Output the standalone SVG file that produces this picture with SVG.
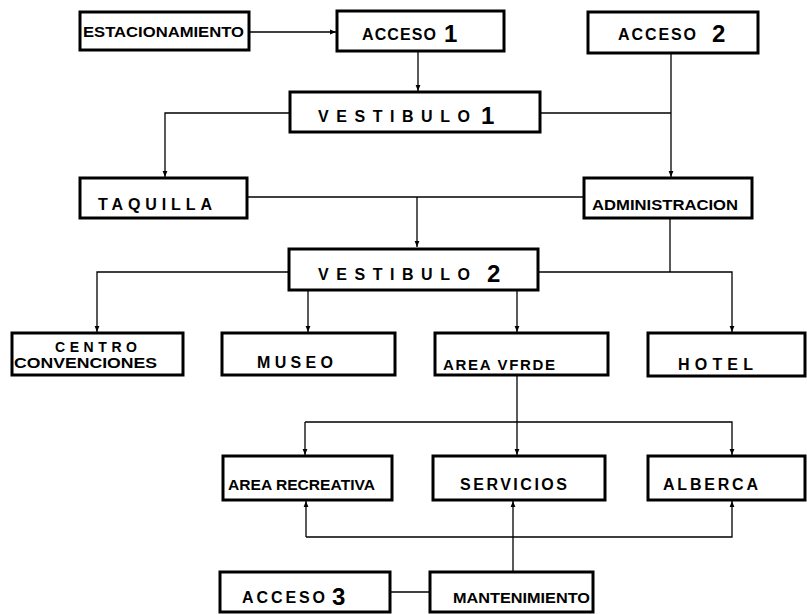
<svg xmlns="http://www.w3.org/2000/svg" width="807" height="614" viewBox="0 0 807 614">
<defs>
<marker id="ah" viewBox="0 0 10 10" refX="10" refY="5" markerWidth="6" markerHeight="6" orient="auto" markerUnits="userSpaceOnUse">
<path d="M0,1 L10,5 L0,9 z" fill="#000"/>
</marker>
<style>
.box{fill:#fff;stroke:#000;stroke-width:3}
.t{font-family:"Liberation Sans",Arial,sans-serif;font-weight:bold;font-size:16px;fill:#000}
.k{font-size:15px}
.s{font-size:14px}
.n{font-family:"Liberation Sans",Arial,sans-serif;font-weight:bold;font-size:24px;fill:#000}
.c{fill:none;stroke:#000;stroke-width:1.3}
.a{marker-end:url(#ah)}
</style>
</defs>
<rect width="807" height="614" fill="#fff"/>
<g id="connectors">
<path class="c a" d="M250,32 H336"/>
<path class="c a" d="M418,52 V91"/>
<path class="c a" d="M290,113 H165 V177"/>
<path class="c a" d="M671,54 V177"/>
<path class="c" d="M541,113 H671"/>
<path class="c" d="M248,197 H584"/>
<path class="c a" d="M417,197 V247"/>
<path class="c" d="M670,219 V272"/>
<path class="c a" d="M288,272 H97 V332"/>
<path class="c a" d="M539,272 H732 V332"/>
<path class="c a" d="M308,291 V332"/>
<path class="c a" d="M517,291 V332"/>
<path class="c a" d="M517,376 V455"/>
<path class="c a" d="M305,422 H732 V455"/>
<path class="c a" d="M305,422 V455"/>
<path class="c a" d="M306,537 V501"/>
<path class="c a" d="M306,537 H732 V501"/>
<path class="c a" d="M513,572 V501"/>
<path class="c" d="M390,592 H430"/>
</g>
<g id="estacionamiento"><rect class="box" x="80" y="12" width="169" height="38"/><text class="t k" x="83" y="37" textLength="161" lengthAdjust="spacingAndGlyphs">ESTACIONAMIENTO</text></g>
<g id="acceso1"><rect class="box" x="337" y="11" width="167" height="40"/><text class="t" x="362" y="40" textLength="74" lengthAdjust="spacing">ACCESO</text><text class="n" x="444" y="42">1</text></g>
<g id="acceso2"><rect class="box" x="588" y="12" width="170" height="41"/><text class="t" x="618" y="40" textLength="78" lengthAdjust="spacing">ACCESO</text><text class="n" x="712" y="42">2</text></g>
<g id="vestibulo1"><rect class="box" x="290" y="92" width="250" height="40"/><text class="t" x="318" y="122" textLength="152" lengthAdjust="spacing">VESTIBULO</text><text class="n" x="481" y="124">1</text></g>
<g id="taquilla"><rect class="box" x="80" y="178" width="167" height="40"/><text class="t" x="98" y="210" textLength="114" lengthAdjust="spacing">TAQUILLA</text></g>
<g id="administracion"><rect class="box" x="584" y="178" width="168" height="40"/><text class="t k" x="592" y="210" textLength="146" lengthAdjust="spacingAndGlyphs">ADMINISTRACION</text></g>
<g id="vestibulo2"><rect class="box" x="289" y="249" width="249" height="41"/><text class="t" x="318" y="280" textLength="152" lengthAdjust="spacing">VESTIBULO</text><text class="n" x="487" y="282">2</text></g>
<g id="centro"><rect class="box" x="12" y="333" width="171" height="42"/><text class="t s" x="55" y="352" textLength="82" lengthAdjust="spacing">CENTRO</text><text class="t s" x="14" y="368" textLength="143" lengthAdjust="spacingAndGlyphs">CONVENCIONES</text></g>
<g id="museo"><rect class="box" x="222" y="333" width="173" height="42"/><text class="t" x="257" y="368" textLength="76" lengthAdjust="spacing">MUSEO</text></g>
<g id="areaverde"><rect class="box" x="435" y="333" width="173" height="42"/><text class="t k" x="443" y="370" textLength="112" lengthAdjust="spacing">AREA VFRDE</text></g>
<g id="hotel"><rect class="box" x="648" y="333" width="157" height="43"/><text class="t" x="678" y="370" textLength="75" lengthAdjust="spacing">HOTEL</text></g>
<g id="arearecreativa"><rect class="box" x="223" y="456" width="169" height="44"/><text class="t k" x="228" y="490" textLength="147" lengthAdjust="spacingAndGlyphs">AREA RECREATIVA</text></g>
<g id="servicios"><rect class="box" x="433" y="456" width="172" height="44"/><text class="t" x="460" y="490" textLength="107" lengthAdjust="spacing">SERVICIOS</text></g>
<g id="alberca"><rect class="box" x="648" y="456" width="157" height="44"/><text class="t" x="663" y="490" textLength="95" lengthAdjust="spacing">ALBERCA</text></g>
<g id="acceso3"><rect class="box" x="220" y="572" width="170" height="40"/><text class="t" x="242" y="603" textLength="83" lengthAdjust="spacing">ACCESO</text><text class="n" x="332" y="605">3</text></g>
<g id="mantenimiento"><rect class="box" x="430" y="572" width="163" height="40"/><text class="t k" x="453" y="603" textLength="137" lengthAdjust="spacingAndGlyphs">MANTENIMIENTO</text></g>
</svg>
